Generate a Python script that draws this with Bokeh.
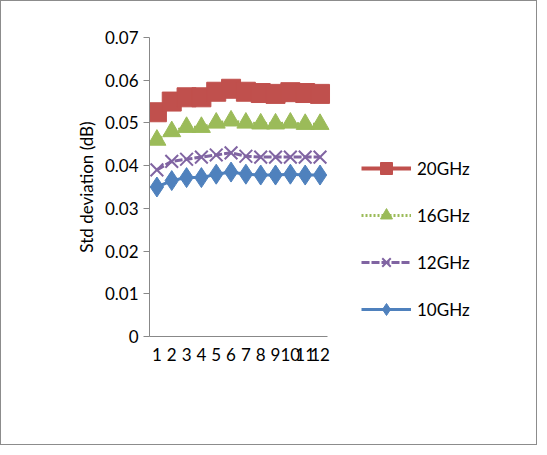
from bokeh.plotting import figure
from bokeh.embed import file_html
from bokeh.resources import INLINE
from bokeh.models import Legend, LegendItem, FixedTicker, CustomJSTickFormatter

x = list(range(1, 13))
s20 = [0.0525, 0.055, 0.056, 0.056, 0.0573, 0.058, 0.0573, 0.057, 0.0568, 0.0572, 0.057, 0.0568]
s16 = [0.046, 0.048, 0.049, 0.049, 0.050, 0.0505, 0.050, 0.0498, 0.0498, 0.050, 0.0497, 0.0497]
s12 = [0.039, 0.041, 0.0415, 0.042, 0.0425, 0.043, 0.0422, 0.042, 0.042, 0.042, 0.042, 0.042]
s10 = [0.035, 0.0365, 0.0372, 0.0372, 0.038, 0.0385, 0.038, 0.0378, 0.0378, 0.038, 0.0378, 0.0378]
yticks = [0, 0.01, 0.02, 0.03, 0.04, 0.05, 0.06, 0.07]

FONT = "Lato"
# frame extends to the right so the legend sits inside it; x axis is bounded to 1..12
p = figure(width=537, height=445, output_backend="svg", toolbar_location=None,
           x_range=(0.5, 26.06), y_range=(0, 0.07),
           min_border_left=148, min_border_top=36, min_border_bottom=110, min_border_right=10)
p.styles = {"border": "1px solid #8c8c8c"}
p.grid.visible = False
p.outline_line_color = None

items = []
r = p.line(x, s20, line_color="#c0504d", line_width=4)
m = p.scatter(x, s20, marker="square", size=19, color="#c0504d")
items.append(LegendItem(label="20GHz", renderers=[r, m]))
r = p.line(x, s16, line_color="#9bbb59", line_width=3, line_dash="2 2")
m = p.scatter(x, s16, marker="triangle", size=18, color="#9bbb59")
items.append(LegendItem(label="16GHz", renderers=[r, m]))
r = p.line(x, s12, line_color="#8064a2", line_width=3, line_dash="8 2")
m = p.scatter(x, s12, marker="x", size=18, line_color="#8064a2", line_width=2)
items.append(LegendItem(label="12GHz", renderers=[r, m]))
r = p.line(x, s10, line_color="#4f81bd", line_width=3)
m = p.scatter(x, s10, marker="diamond", size=20, color="#4f81bd")
items.append(LegendItem(label="10GHz", renderers=[r, m]))

leg = Legend(items=items, location=(212, 12), border_line_color=None, background_fill_alpha=0,
             label_text_font=FONT, label_text_font_size="17px", label_text_color="black",
             glyph_width=50, glyph_height=30, spacing=17, label_standoff=6)
p.add_layout(leg)

p.yaxis.ticker = FixedTicker(ticks=yticks)
p.yaxis.formatter = CustomJSTickFormatter(code="return tick == 0 ? '0' : tick.toFixed(2);")
p.yaxis.axis_label = "Std deviation (dB)"
p.yaxis.axis_label_text_font = FONT
p.yaxis.axis_label_text_font_style = "normal"
p.yaxis.axis_label_text_font_size = "17px"
p.yaxis.axis_label_text_color = "black"
p.xaxis.ticker = FixedTicker(ticks=x)
p.xaxis.bounds = (0.5, 12.5)
p.xaxis.major_tick_line_color = None
p.axis.minor_tick_line_color = None
p.axis.major_label_text_font = FONT
p.axis.major_label_text_font_size = "17px"
p.axis.major_label_text_color = "black"
p.axis.axis_line_color = "#888888"
p.yaxis.major_tick_line_color = "#888888"
p.yaxis.major_tick_in = 0
p.yaxis.major_tick_out = 6

open("out.html", "w").write(file_html(p, INLINE))
